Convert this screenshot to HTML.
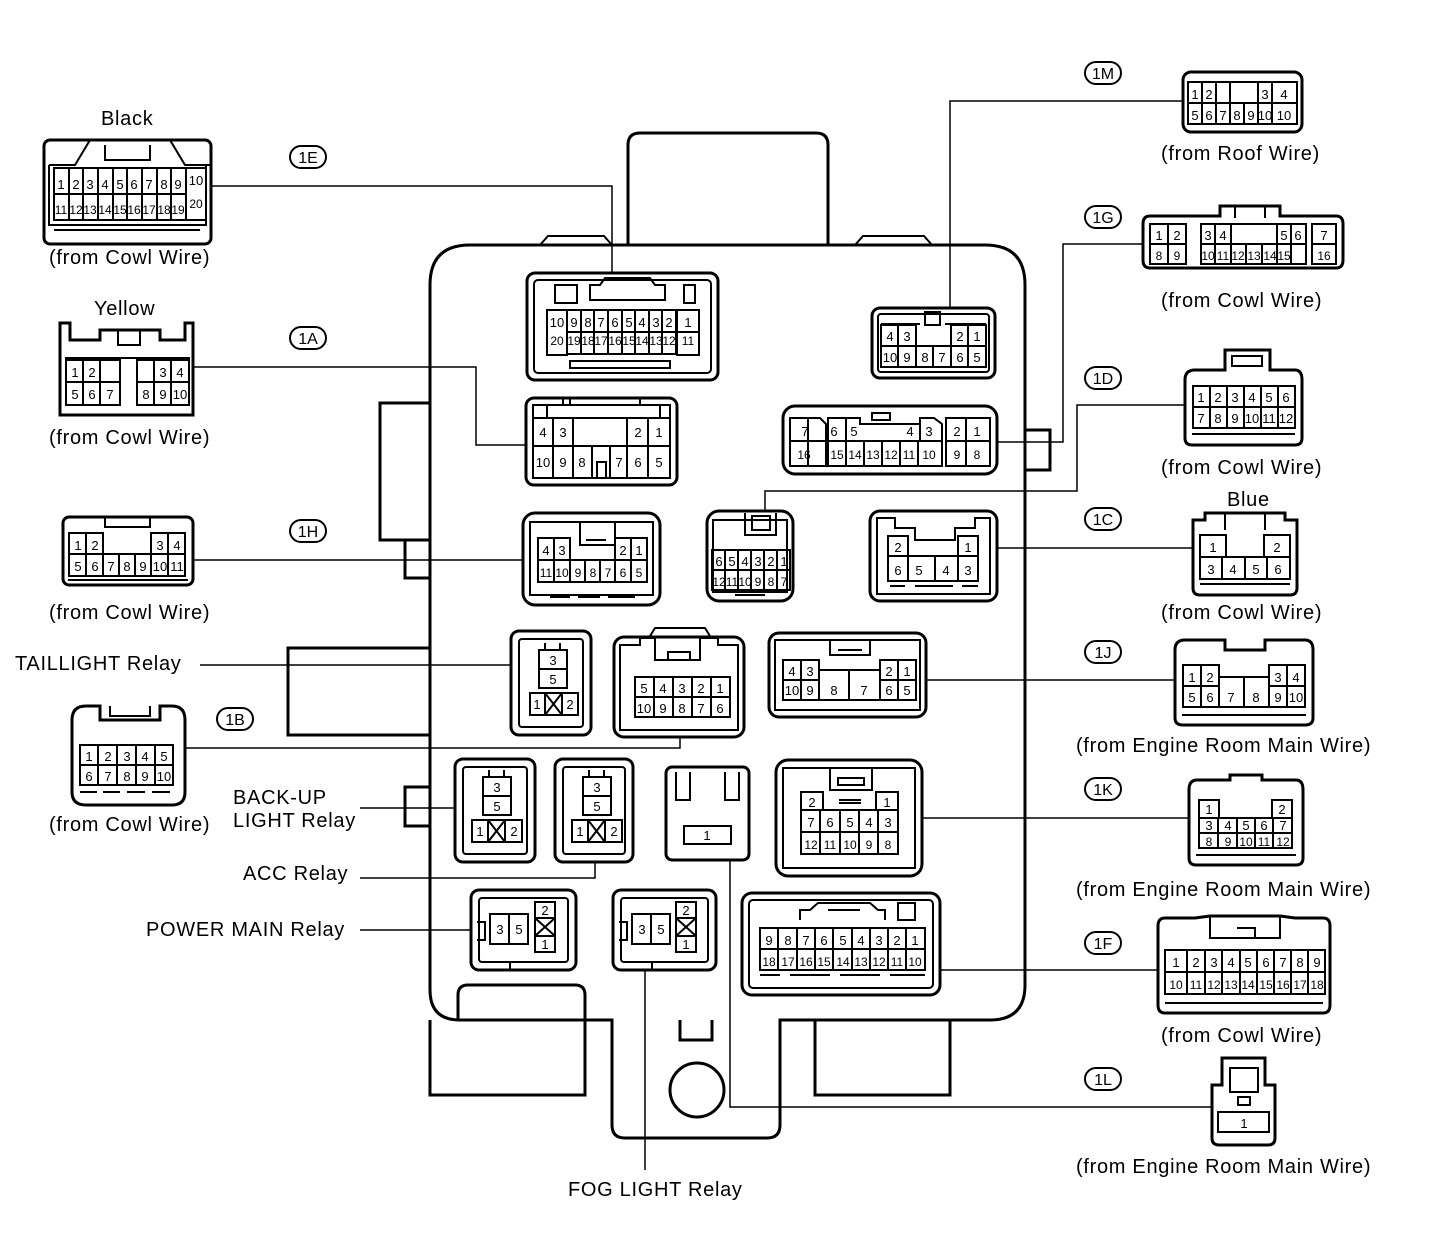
<!DOCTYPE html>
<html><head><meta charset="utf-8"><style>
html,body{margin:0;padding:0;background:#fff}
svg{display:block}
text{font-family:"Liberation Sans",sans-serif;fill:#000}
.l{font-size:20px;letter-spacing:0.7px}
.p{font-size:13px;text-anchor:middle}
.s{fill:none;stroke:#000;stroke-width:2}
.t{fill:none;stroke:#000;stroke-width:3}
.w{fill:#fff;stroke:#000;stroke-width:3}
.ln{fill:none;stroke:#000;stroke-width:1.5}
</style></head><body>
<svg width="1440" height="1254" viewBox="0 0 1440 1254" xmlns="http://www.w3.org/2000/svg">
<!-- main box body -->
<path class="t" d="M628,245 V145 Q628,133 640,133 H816 Q828,133 828,145 V245"/>
<path class="s" d="M540,245 L548,236 H604 L612,245 M855,245 L863,236 H924 L932,245"/>
<path class="t" d="M470,245 H985 Q1025,245 1025,285 V985 Q1025,1020 990,1020 H780 V1125 Q780,1138 767,1138 H625 Q612,1138 612,1125 V1020 H460 Q430,1020 430,990 V285 Q430,245 470,245 Z"/>
<path class="t" d="M430,403 H380 V540 H430 M405,540 V578 H430 M430,648 H288 V735 H430 M430,787 H405 V826 H430 M1025,430 H1050 V470 H1025"/>
<path class="t" d="M430,1020 V1095 H585 V995 Q585,985 575,985 H468 Q458,985 458,995 V1020 M815,1020 V1095 H950 V1020 M680,1020 V1040 H712 V1020"/>
<circle class="t" cx="697" cy="1090" r="27"/>

<!-- Leader lines -->
<path class="ln" d="M211,186 H612 V273 M193,367 H476 V445 H526 M193,560 H523 M200,665 H511 M185,748 H680 V737 M360,808 H455 M360,878 H595 V862 M360,930 H471 M645,1170 V970 M1183,101 H950 V308 M1143,244 H1063 V442 H997 M1185,405 H1077 V491 H765 V511 M997,548 H1193 M926,680 H1175 M922,818 H1189 M940,970 H1158 M730,860 V1107 H1212"/>

<!-- labels -->
<g class="l">
<text x="101" y="125">Black</text>
<text x="49" y="264">(from Cowl Wire)</text>
<text x="94" y="315">Yellow</text>
<text x="49" y="444">(from Cowl Wire)</text>
<text x="49" y="619">(from Cowl Wire)</text>
<text x="15" y="670">TAILLIGHT Relay</text>
<text x="49" y="831">(from Cowl Wire)</text>
<text x="233" y="804">BACK-UP</text>
<text x="233" y="827">LIGHT Relay</text>
<text x="243" y="880">ACC Relay</text>
<text x="146" y="936">POWER MAIN Relay</text>
<text x="568" y="1196">FOG LIGHT Relay</text>
<text x="1161" y="160">(from Roof Wire)</text>
<text x="1161" y="307">(from Cowl Wire)</text>
<text x="1161" y="474">(from Cowl Wire)</text>
<text x="1227" y="506">Blue</text>
<text x="1161" y="619">(from Cowl Wire)</text>
<text x="1076" y="752">(from Engine Room Main Wire)</text>
<text x="1076" y="896">(from Engine Room Main Wire)</text>
<text x="1161" y="1042">(from Cowl Wire)</text>
<text x="1076" y="1173">(from Engine Room Main Wire)</text>
</g>
<!-- circle tags -->
<g class="p" style="font-size:16px">
<rect class="s" x="290" y="146" width="36" height="22" rx="11"/><text x="308" y="163">1E</text>
<rect class="s" x="290" y="327" width="36" height="22" rx="11"/><text x="308" y="344">1A</text>
<rect class="s" x="290" y="520" width="36" height="22" rx="11"/><text x="308" y="537">1H</text>
<rect class="s" x="217" y="708" width="36" height="22" rx="11"/><text x="235" y="725">1B</text>
<rect class="s" x="1085" y="62" width="36" height="22" rx="11"/><text x="1103" y="79">1M</text>
<rect class="s" x="1085" y="206" width="36" height="22" rx="11"/><text x="1103" y="223">1G</text>
<rect class="s" x="1085" y="367" width="36" height="22" rx="11"/><text x="1103" y="384">1D</text>
<rect class="s" x="1085" y="508" width="36" height="22" rx="11"/><text x="1103" y="525">1C</text>
<rect class="s" x="1085" y="641" width="36" height="22" rx="11"/><text x="1103" y="658">1J</text>
<rect class="s" x="1085" y="778" width="36" height="22" rx="11"/><text x="1103" y="795">1K</text>
<rect class="s" x="1085" y="932" width="36" height="22" rx="11"/><text x="1103" y="949">1F</text>
<rect class="s" x="1085" y="1068" width="36" height="22" rx="11"/><text x="1103" y="1085">1L</text>
</g>

<!-- ===== Left external connectors ===== -->
<!-- Black 1E -->
<rect class="t" x="44" y="140" width="167" height="104" rx="6"/>
<path class="s" d="M49,165 H75 L90,140 M211,165 H185 L170,140 M49,165 V225 H206 V165 M54,230 H200 M105,145 V160 H150 V145"/>
<rect class="s" x="54" y="168" width="132" height="52"/><rect class="s" x="186" y="168" width="20" height="52"/>
<path class="s" d="M54,194 H186 M69,168 V220 M83,168 V220 M98,168 V220 M113,168 V220 M127,168 V220 M142,168 V220 M157,168 V220 M171,168 V220"/>
<text class="p" y="189"><tspan x="61">1</tspan><tspan x="76">2</tspan><tspan x="90">3</tspan><tspan x="105">4</tspan><tspan x="120">5</tspan><tspan x="134">6</tspan><tspan x="149">7</tspan><tspan x="164">8</tspan><tspan x="178">9</tspan><tspan x="196" y="185">10</tspan></text>
<text class="p" y="214" style="font-size:12px"><tspan x="61">11</tspan><tspan x="76">12</tspan><tspan x="90">13</tspan><tspan x="105">14</tspan><tspan x="120">15</tspan><tspan x="134">16</tspan><tspan x="149">17</tspan><tspan x="164">18</tspan><tspan x="178">19</tspan><tspan x="196" y="208">20</tspan></text>

<!-- Yellow 1A -->
<path class="t" d="M60,323 H70 V340 H100 V330 H160 V340 H185 V323 H193 V415 H60 Z"/>
<path class="s" d="M118,330 V345 H140 V330 M65,358 H190"/>
<rect class="s" x="66" y="360" width="34" height="45"/><rect class="s" x="100" y="360" width="20" height="45"/><rect class="s" x="137" y="360" width="52" height="45"/>
<path class="s" d="M66,382 H120 M137,382 H189 M83,360 V405 M154,360 V382 M137,382 V405 M154,382 V405 M171,360 V405 M100,382 H120"/>
<text class="p" y="377"><tspan x="75">1</tspan><tspan x="92">2</tspan><tspan x="163">3</tspan><tspan x="180">4</tspan></text>
<text class="p" y="399"><tspan x="75">5</tspan><tspan x="92">6</tspan><tspan x="110">7</tspan><tspan x="146">8</tspan><tspan x="163">9</tspan><tspan x="180">10</tspan></text>

<!-- 1H ext -->
<rect class="t" x="63" y="517" width="130" height="68" rx="6"/>
<path class="s" d="M105,517 V527 H150 V517 M68,580 H188"/>
<rect class="s" x="69" y="533" width="34" height="43"/><rect class="s" x="151" y="533" width="34" height="43"/><rect class="s" x="103" y="554" width="48" height="22"/>
<path class="s" d="M69,554 H185 M86,533 V576 M168,533 V576 M119,554 V576 M135,554 V576"/>
<text class="p" y="550"><tspan x="78">1</tspan><tspan x="95">2</tspan><tspan x="160">3</tspan><tspan x="177">4</tspan></text>
<text class="p" y="571"><tspan x="78">5</tspan><tspan x="95">6</tspan><tspan x="111">7</tspan><tspan x="127">8</tspan><tspan x="143">9</tspan><tspan x="160">10</tspan><tspan x="177">11</tspan></text>

<!-- 1B ext -->
<path class="t" d="M72,720 Q72,706 86,706 H100 V720 H160 V706 H172 Q185,706 185,720 V792 Q185,805 172,805 H86 Q72,805 72,792 Z"/>
<path class="s" d="M110,706 V716 H150 V706 M80,792 H97 M103,792 H120 M127,792 H145 M152,792 H170"/>
<rect class="s" x="80" y="745" width="93" height="40"/>
<path class="s" d="M80,765 H173 M98,745 V785 M117,745 V785 M136,745 V785 M155,745 V785"/>
<text class="p" y="761"><tspan x="89">1</tspan><tspan x="108">2</tspan><tspan x="127">3</tspan><tspan x="145">4</tspan><tspan x="164">5</tspan></text>
<text class="p" y="781"><tspan x="89">6</tspan><tspan x="108">7</tspan><tspan x="127">8</tspan><tspan x="145">9</tspan><tspan x="164">10</tspan></text>

<!-- ===== Right external connectors ===== -->
<!-- 1M -->
<rect class="t" x="1183" y="72" width="119" height="60" rx="8"/>
<rect class="s" x="1188" y="82" width="109" height="42"/>
<path class="s" d="M1188,103 H1297 M1202,82 V124 M1216,82 V124 M1230,103 V124 M1244,103 V124 M1258,103 V124 M1272,82 V124 M1230,82 V103 M1258,82 V103"/>
<text class="p" y="99"><tspan x="1195">1</tspan><tspan x="1209">2</tspan><tspan x="1265">3</tspan><tspan x="1284">4</tspan></text>
<text class="p" y="120"><tspan x="1195">5</tspan><tspan x="1209">6</tspan><tspan x="1223">7</tspan><tspan x="1237">8</tspan><tspan x="1251">9</tspan><tspan x="1265">10</tspan></text>
<text class="p" x="1284" y="120">10</text>

<!-- 1G -->
<path class="t" d="M1150,216 H1220 V206 H1280 V216 H1336 Q1343,216 1343,224 V260 Q1343,268 1336,268 H1150 Q1143,268 1143,260 V224 Q1143,216 1150,216 Z"/>
<path class="s" d="M1235,206 V218 M1265,206 V218"/>
<rect class="s" x="1150" y="224" width="36" height="40"/><rect class="s" x="1201" y="224" width="105" height="40"/><rect class="s" x="1312" y="224" width="24" height="40"/>
<path class="s" d="M1150,244 H1186 M1201,244 H1306 M1312,244 H1336 M1168,224 V264 M1215,224 V264 M1231,244 V264 M1246,244 V264 M1262,244 V264 M1277,244 V264 M1291,224 V264 M1231,224 V244 M1277,224 V244"/>
<text class="p" y="240"><tspan x="1159">1</tspan><tspan x="1177">2</tspan><tspan x="1208">3</tspan><tspan x="1223">4</tspan><tspan x="1284">5</tspan><tspan x="1298">6</tspan><tspan x="1324">7</tspan></text>
<text class="p" y="260" style="font-size:12px"><tspan x="1159">8</tspan><tspan x="1177">9</tspan><tspan x="1208">10</tspan><tspan x="1223">11</tspan><tspan x="1238">12</tspan><tspan x="1254">13</tspan><tspan x="1270">14</tspan><tspan x="1284">15</tspan><tspan x="1324">16</tspan></text>

<!-- 1D -->
<path class="t" d="M1195,370 H1225 V350 H1270 V370 H1295 Q1302,370 1302,380 V438 Q1302,445 1295,445 H1192 Q1185,445 1185,438 V380 Q1185,370 1195,370 Z"/>
<path class="s" d="M1232,356 H1262 V366 H1232 Z M1192,434 H1295"/>
<rect class="s" x="1193" y="386" width="102" height="42"/>
<path class="s" d="M1193,407 H1295 M1210,386 V428 M1227,386 V428 M1244,386 V428 M1261,386 V428 M1278,386 V428"/>
<text class="p" y="402"><tspan x="1201">1</tspan><tspan x="1218">2</tspan><tspan x="1235">3</tspan><tspan x="1252">4</tspan><tspan x="1269">5</tspan><tspan x="1286">6</tspan></text>
<text class="p" y="423"><tspan x="1201">7</tspan><tspan x="1218">8</tspan><tspan x="1235">9</tspan><tspan x="1252">10</tspan><tspan x="1269">11</tspan><tspan x="1286">12</tspan></text>

<!-- 1C Blue -->
<path class="t" d="M1193,520 H1205 V513 H1285 V520 H1297 V588 Q1297,595 1290,595 H1200 Q1193,595 1193,588 Z"/>
<path class="s" d="M1225,513 V530 M1265,513 V530 M1200,584 H1290"/>
<rect class="s" x="1200" y="535" width="26" height="22"/><rect class="s" x="1264" y="535" width="26" height="22"/><rect class="s" x="1200" y="557" width="90" height="22"/>
<path class="s" d="M1222,557 V579 M1245,557 V579 M1267,557 V579"/>
<text class="p" y="552"><tspan x="1213">1</tspan><tspan x="1277">2</tspan></text>
<text class="p" y="574"><tspan x="1211">3</tspan><tspan x="1233">4</tspan><tspan x="1256">5</tspan><tspan x="1278">6</tspan></text>

<!-- 1J -->
<path class="t" d="M1185,640 H1225 V650 H1265 V640 H1305 Q1313,640 1313,650 V718 Q1313,725 1305,725 H1183 Q1175,725 1175,718 V650 Q1175,640 1185,640 Z"/>
<path class="s" d="M1182,715 H1306"/>
<rect class="s" x="1183" y="665" width="36" height="42"/><rect class="s" x="1269" y="665" width="36" height="42"/><rect class="s" x="1219" y="677" width="50" height="30"/>
<path class="s" d="M1183,686 H1219 M1269,686 H1305 M1201,665 V707 M1287,665 V707 M1244,677 V707"/>
<text class="p" y="682"><tspan x="1192">1</tspan><tspan x="1210">2</tspan><tspan x="1278">3</tspan><tspan x="1296">4</tspan></text>
<text class="p" y="702"><tspan x="1192">5</tspan><tspan x="1210">6</tspan><tspan x="1231">7</tspan><tspan x="1256">8</tspan><tspan x="1278">9</tspan><tspan x="1296">10</tspan></text>

<!-- 1K -->
<path class="t" d="M1197,780 H1230 V775 H1262 V780 H1296 Q1303,780 1303,790 V858 Q1303,865 1296,865 H1196 Q1189,865 1189,858 V790 Q1189,780 1197,780 Z"/>
<path class="s" d="M1196,855 H1296"/>
<rect class="s" x="1199" y="800" width="20" height="18"/><rect class="s" x="1272" y="800" width="20" height="18"/><rect class="s" x="1199" y="818" width="93" height="30"/>
<path class="s" d="M1199,833 H1292 M1218,818 V848 M1237,818 V848 M1255,818 V848 M1273,818 V848"/>
<text class="p" y="814"><tspan x="1209">1</tspan><tspan x="1282">2</tspan></text>
<text class="p" y="830"><tspan x="1209">3</tspan><tspan x="1228">4</tspan><tspan x="1246">5</tspan><tspan x="1264">6</tspan><tspan x="1283">7</tspan></text>
<text class="p" y="846" style="font-size:12px"><tspan x="1209">8</tspan><tspan x="1228">9</tspan><tspan x="1246">10</tspan><tspan x="1264">11</tspan><tspan x="1283">12</tspan></text>

<!-- 1F -->
<path class="t" d="M1165,918 H1195 L1210,916 H1280 L1295,918 H1323 Q1330,918 1330,926 V1005 Q1330,1013 1323,1013 H1165 Q1158,1013 1158,1005 V926 Q1158,918 1165,918 Z"/>
<path class="s" d="M1210,916 V938 H1280 V916 M1237,928 H1255 V938 M1165,1003 H1323"/>
<rect class="s" x="1165" y="950" width="160" height="44"/>
<path class="s" d="M1165,972 H1325 M1187,950 V994 M1205,950 V994 M1222,950 V994 M1240,950 V994 M1257,950 V994 M1274,950 V994 M1291,950 V994 M1308,950 V994"/>
<text class="p" y="967"><tspan x="1176">1</tspan><tspan x="1196">2</tspan><tspan x="1214">3</tspan><tspan x="1231">4</tspan><tspan x="1248">5</tspan><tspan x="1266">6</tspan><tspan x="1283">7</tspan><tspan x="1300">8</tspan><tspan x="1317">9</tspan></text>
<text class="p" y="989" style="font-size:12px"><tspan x="1176">10</tspan><tspan x="1196">11</tspan><tspan x="1214">12</tspan><tspan x="1231">13</tspan><tspan x="1248">14</tspan><tspan x="1266">15</tspan><tspan x="1283">16</tspan><tspan x="1300">17</tspan><tspan x="1317">18</tspan></text>

<!-- 1L -->
<path class="t" d="M1222,1058 H1265 V1085 H1275 V1138 Q1275,1145 1268,1145 H1219 Q1212,1145 1212,1138 V1085 H1222 Z"/>
<path class="s" d="M1230,1068 H1258 V1092 H1230 Z M1238,1097 H1250 V1105 H1238 Z M1218,1112 H1269 V1132 H1218 Z"/>
<text class="p" x="1244" y="1128">1</text>

<!-- ===== Inside box connectors ===== -->
<!-- 1E in -->
<rect class="t" x="527" y="273" width="191" height="107" rx="8"/>
<rect class="s" x="534" y="280" width="177" height="93" rx="4"/>
<path class="s" d="M555,285 H577 V303 H555 Z M590,300 V285 H600 L605,278 H650 L655,285 H665 V300 Z M684,285 H695 V303 H684 Z M570,368 H670 V361 H570 Z"/>
<rect class="s" x="547" y="310" width="20" height="45"/><rect class="s" x="567" y="310" width="109" height="22"/><rect class="s" x="567" y="332" width="109" height="22"/><rect class="s" x="677" y="310" width="22" height="45"/>
<path class="s" d="M677,332 H699 M581,310 V354 M594,310 V354 M608,310 V354 M622,310 V354 M635,310 V354 M649,310 V354 M662,310 V354"/>
<text class="p" y="327"><tspan x="557">10</tspan><tspan x="574">9</tspan><tspan x="588">8</tspan><tspan x="601">7</tspan><tspan x="615">6</tspan><tspan x="629">5</tspan><tspan x="642">4</tspan><tspan x="656">3</tspan><tspan x="669">2</tspan><tspan x="688">1</tspan></text>
<text class="p" y="348" style="font-size:12px"><tspan x="557" y="345">20</tspan><tspan x="574">19</tspan><tspan x="588">18</tspan><tspan x="601">17</tspan><tspan x="615">16</tspan><tspan x="629">15</tspan><tspan x="642">14</tspan><tspan x="656">13</tspan><tspan x="669">12</tspan><tspan x="688" y="345">11</tspan></text>

<!-- 1A in -->
<rect class="t" x="526" y="398" width="151" height="87" rx="8"/>
<path class="s" d="M533,405 H670 V478 H533 Z M547,405 V418 H660 V405 M563,405 V398 M570,405 V398 M640,405 V398"/>
<rect class="s" x="533" y="418" width="40" height="60"/><rect class="s" x="627" y="418" width="43" height="60"/>
<path class="s" d="M533,446 H670 M553,418 V478 M573,446 H627 M592,446 V478 M610,446 V478 M648,418 V478 M597,478 V462 H606 V478"/>
<text class="p" y="437"><tspan x="543">4</tspan><tspan x="563">3</tspan><tspan x="638">2</tspan><tspan x="659">1</tspan></text>
<text class="p" y="467"><tspan x="543">10</tspan><tspan x="563">9</tspan><tspan x="582">8</tspan><tspan x="619">7</tspan><tspan x="638">6</tspan><tspan x="659">5</tspan></text>

<!-- 1M in -->
<rect class="t" x="872" y="308" width="123" height="70" rx="8"/>
<rect class="s" x="878" y="314" width="111" height="58" rx="3"/>
<path class="s" d="M925,320 V312 H940 V325 H925 Z M881,324 H920 M945,324 H986"/>
<rect class="s" x="881" y="325" width="35" height="21"/><rect class="s" x="951" y="325" width="35" height="21"/><rect class="s" x="881" y="346" width="105" height="21"/>
<path class="s" d="M898,325 V367 M968,325 V367 M916,346 V367 M933,346 V367 M951,346 V367"/>
<text class="p" y="341"><tspan x="890">4</tspan><tspan x="907">3</tspan><tspan x="960">2</tspan><tspan x="977">1</tspan></text>
<text class="p" y="362"><tspan x="890">10</tspan><tspan x="907">9</tspan><tspan x="925">8</tspan><tspan x="942">7</tspan><tspan x="960">6</tspan><tspan x="977">5</tspan></text>

<!-- 1G in -->
<rect class="t" x="783" y="406" width="214" height="68" rx="12"/>
<path class="s" d="M790,418 H820 L826,424 V466 H790 Z M828,418 H860 V424 H920 V418 H934 L942,424 V466 H828 Z M946,418 H990 V466 H946 Z M872,413 H890 V420 H872 Z"/>
<path class="s" d="M790,441 H826 M828,441 H942 M946,441 H990 M808,418 V466 M846,418 V466 M864,441 V466 M882,441 V466 M900,441 V466 M918,441 V466 M920,418 V441 M966,418 V466"/>
<text class="p" y="436"><tspan x="805">7</tspan><tspan x="834">6</tspan><tspan x="854">5</tspan><tspan x="910">4</tspan><tspan x="929">3</tspan><tspan x="957">2</tspan><tspan x="977">1</tspan></text>
<text class="p" y="459" style="font-size:12px"><tspan x="804">16</tspan><tspan x="837">15</tspan><tspan x="855">14</tspan><tspan x="873">13</tspan><tspan x="891">12</tspan><tspan x="909">11</tspan><tspan x="929">10</tspan><tspan x="957">9</tspan><tspan x="977">8</tspan></text>

<!-- 1H in -->
<rect class="t" x="523" y="513" width="137" height="92" rx="12"/>
<path class="s" d="M530,522 H653 V595 H530 Z M580,523 V545 H615 V523 M586,540 H606 M550,597 H570 M578,597 H600 M608,597 H635"/>
<rect class="s" x="538" y="538" width="32" height="22"/><rect class="s" x="615" y="538" width="32" height="22"/><rect class="s" x="538" y="560" width="109" height="22"/>
<path class="s" d="M554,538 V582 M631,538 V582 M570,560 V582 M585,560 V582 M600,560 V582 M615,560 V582"/>
<text class="p" y="555"><tspan x="546">4</tspan><tspan x="562">3</tspan><tspan x="623">2</tspan><tspan x="639">1</tspan></text>
<text class="p" y="577" style="font-size:12px"><tspan x="546">11</tspan><tspan x="562">10</tspan><tspan x="578">9</tspan><tspan x="593">8</tspan><tspan x="608">7</tspan><tspan x="623">6</tspan><tspan x="639">5</tspan></text>

<!-- 1D in -->
<rect class="t" x="707" y="511" width="86" height="90" rx="12"/>
<path class="s" d="M713,520 H787 V592 H713 Z M745,513 V535 H776 V513 M752,516 H770 V530 H752 Z M735,595 H765"/>
<rect class="s" x="712" y="550" width="78" height="40"/>
<path class="s" d="M712,570 H790 M725,550 V590 M738,550 V590 M751,550 V590 M764,550 V590 M777,550 V590"/>
<text class="p" y="566"><tspan x="719">6</tspan><tspan x="732">5</tspan><tspan x="745">4</tspan><tspan x="758">3</tspan><tspan x="771">2</tspan><tspan x="784">1</tspan></text>
<text class="p" y="586" style="font-size:12px"><tspan x="719">12</tspan><tspan x="732">11</tspan><tspan x="745">10</tspan><tspan x="758">9</tspan><tspan x="771">8</tspan><tspan x="784">7</tspan></text>

<!-- 1C in -->
<rect class="t" x="870" y="511" width="127" height="90" rx="10"/>
<path class="s" d="M877,518 H895 V528 H915 V540 H955 V528 H975 V518 H990 V594 H877 Z"/>
<rect class="s" x="888" y="536" width="20" height="20"/><rect class="s" x="958" y="536" width="20" height="20"/><rect class="s" x="888" y="556" width="90" height="25"/>
<path class="s" d="M908,556 V581 M935,556 V581 M958,556 V581 M890,586 H905 M915,586 H953 M962,586 H978"/>
<text class="p" y="552"><tspan x="898">2</tspan><tspan x="968">1</tspan></text>
<text class="p" y="575"><tspan x="898">6</tspan><tspan x="919">5</tspan><tspan x="946">4</tspan><tspan x="968">3</tspan></text>

<!-- Taillight relay -->
<rect class="t" x="511" y="631" width="80" height="104" rx="8"/>
<rect class="s" x="519" y="639" width="64" height="88" rx="3"/>
<path class="s" d="M545,643 V650 H560 V643"/>
<rect class="s" x="539" y="650" width="28" height="38"/>
<path class="s" d="M539,669 H567"/>
<text class="p" x="553" y="665">3</text><text class="p" x="553" y="684">5</text>
<rect class="s" x="530" y="693" width="48" height="22"/>
<path class="s" d="M545,693 V715 M562,693 V715 M545,693 L562,715 M562,693 L545,715"/>
<text class="p" x="537" y="709">1</text><text class="p" x="570" y="709">2</text>

<!-- unlabeled 10-pin -->
<rect class="t" x="614" y="637" width="130" height="100" rx="10"/>
<path class="s" d="M620,645 H640 V638 H655 V660 H700 V638 H718 V645 H738 V730 H620 Z M650,636 L655,628 H705 L710,636 M668,660 V652 H690 V660"/>
<rect class="s" x="635" y="677" width="95" height="40"/>
<path class="s" d="M635,697 H730 M654,677 V717 M673,677 V717 M692,677 V717 M711,677 V717"/>
<text class="p" y="693"><tspan x="644">5</tspan><tspan x="663">4</tspan><tspan x="682">3</tspan><tspan x="701">2</tspan><tspan x="720">1</tspan></text>
<text class="p" y="713"><tspan x="644">10</tspan><tspan x="663">9</tspan><tspan x="682">8</tspan><tspan x="701">7</tspan><tspan x="720">6</tspan></text>

<!-- 1J in -->
<rect class="t" x="769" y="633" width="157" height="84" rx="10"/>
<path class="s" d="M775,640 H920 V710 H775 Z M830,640 V655 H870 V640 M838,650 H862"/>
<rect class="s" x="783" y="660" width="36" height="40"/><rect class="s" x="880" y="660" width="36" height="40"/><rect class="s" x="819" y="670" width="61" height="30"/>
<path class="s" d="M783,680 H819 M880,680 H916 M801,660 V700 M898,660 V700 M849,670 V700"/>
<text class="p" y="676"><tspan x="792">4</tspan><tspan x="810">3</tspan><tspan x="889">2</tspan><tspan x="907">1</tspan></text>
<text class="p" y="695"><tspan x="792">10</tspan><tspan x="810">9</tspan><tspan x="834">8</tspan><tspan x="864">7</tspan><tspan x="889">6</tspan><tspan x="907">5</tspan></text>

<!-- Backup relay -->
<rect class="t" x="455" y="759" width="80" height="103" rx="8"/>
<rect class="s" x="463" y="767" width="64" height="87" rx="3"/>
<path class="s" d="M489,770 V777 H504 V770"/>
<rect class="s" x="483" y="777" width="28" height="38"/><path class="s" d="M483,796 H511"/>
<text class="p" x="497" y="792">3</text><text class="p" x="497" y="811">5</text>
<rect class="s" x="472" y="820" width="50" height="22"/>
<path class="s" d="M488,820 V842 M505,820 V842 M488,820 L505,842 M505,820 L488,842"/>
<text class="p" x="480" y="836">1</text><text class="p" x="514" y="836">2</text>

<!-- ACC relay -->
<rect class="t" x="555" y="759" width="78" height="103" rx="8"/>
<rect class="s" x="563" y="767" width="62" height="87" rx="3"/>
<path class="s" d="M589,770 V777 H604 V770"/>
<rect class="s" x="583" y="777" width="28" height="38"/><path class="s" d="M583,796 H611"/>
<text class="p" x="597" y="792">3</text><text class="p" x="597" y="811">5</text>
<rect class="s" x="572" y="820" width="50" height="22"/>
<path class="s" d="M588,820 V842 M605,820 V842 M588,820 L605,842 M605,820 L588,842"/>
<text class="p" x="580" y="836">1</text><text class="p" x="614" y="836">2</text>

<!-- 1L socket -->
<rect class="t" x="666" y="767" width="83" height="93" rx="6"/>
<path class="s" d="M676,772 V800 H690 V772 M725,772 V800 H739 V772"/>
<rect class="s" x="684" y="826" width="47" height="18"/>
<text class="p" x="707" y="840">1</text>

<!-- 1K in -->
<rect class="t" x="776" y="760" width="146" height="116" rx="12"/>
<path class="s" d="M783,768 H915 V868 H783 Z M830,768 V790 H872 V768 M838,778 H864 V785 H838 Z"/>
<rect class="s" x="801" y="792" width="22" height="18"/><rect class="s" x="876" y="792" width="22" height="18"/><rect class="s" x="801" y="810" width="97" height="44"/>
<path class="s" d="M839,800 H861 M839,803 H861 M801,832 H898 M820,810 V854 M840,810 V854 M859,810 V854 M878,810 V854"/>
<text class="p" y="807"><tspan x="812">2</tspan><tspan x="887">1</tspan></text>
<text class="p" y="827"><tspan x="811">7</tspan><tspan x="830">6</tspan><tspan x="850">5</tspan><tspan x="869">4</tspan><tspan x="888">3</tspan></text>
<text class="p" y="849" style="font-size:12px"><tspan x="811">12</tspan><tspan x="830">11</tspan><tspan x="850">10</tspan><tspan x="869">9</tspan><tspan x="888">8</tspan></text>

<!-- Power main relay -->
<rect class="t" x="471" y="890" width="105" height="80" rx="8"/>
<rect class="s" x="479" y="898" width="89" height="64" rx="3"/>
<path class="s" d="M477,922 H485 V940 H477 M510,962 V970"/>
<rect class="s" x="490" y="914" width="38" height="30"/><path class="s" d="M509,914 V944"/>
<text class="p" x="500" y="934">3</text><text class="p" x="519" y="934">5</text>
<rect class="s" x="535" y="902" width="20" height="50"/>
<path class="s" d="M535,918 H555 M535,936 H555 M535,918 L555,936 M555,918 L535,936"/>
<text class="p" x="545" y="915">2</text><text class="p" x="545" y="949">1</text>

<!-- Fog relay -->
<rect class="t" x="613" y="890" width="103" height="80" rx="8"/>
<rect class="s" x="621" y="898" width="87" height="64" rx="3"/>
<path class="s" d="M619,922 H627 V940 H619 M652,962 V970"/>
<rect class="s" x="632" y="914" width="38" height="30"/><path class="s" d="M651,914 V944"/>
<text class="p" x="642" y="934">3</text><text class="p" x="661" y="934">5</text>
<rect class="s" x="676" y="902" width="20" height="50"/>
<path class="s" d="M676,918 H696 M676,936 H696 M676,918 L696,936 M696,918 L676,936"/>
<text class="p" x="686" y="915">2</text><text class="p" x="686" y="949">1</text>

<!-- 1F in -->
<rect class="t" x="742" y="893" width="198" height="102" rx="10"/>
<rect class="s" x="749" y="900" width="184" height="88" rx="4"/>
<path class="s" d="M800,920 V910 H810 L818,903 H870 L878,910 H885 V920 M828,910 H860 M898,903 H915 V920 H898 Z M760,975 H780 M790,975 H830 M840,975 H880 M890,975 H925"/>
<rect class="s" x="760" y="928" width="165" height="42"/>
<path class="s" d="M760,949 H925 M778,928 V970 M797,928 V970 M815,928 V970 M833,928 V970 M852,928 V970 M870,928 V970 M888,928 V970 M906,928 V970"/>
<text class="p" y="945"><tspan x="769">9</tspan><tspan x="788">8</tspan><tspan x="806">7</tspan><tspan x="824">6</tspan><tspan x="843">5</tspan><tspan x="861">4</tspan><tspan x="879">3</tspan><tspan x="897">2</tspan><tspan x="915">1</tspan></text>
<text class="p" y="966" style="font-size:12px"><tspan x="769">18</tspan><tspan x="788">17</tspan><tspan x="806">16</tspan><tspan x="824">15</tspan><tspan x="843">14</tspan><tspan x="861">13</tspan><tspan x="879">12</tspan><tspan x="897">11</tspan><tspan x="915">10</tspan></text>
</svg>
</body></html>
